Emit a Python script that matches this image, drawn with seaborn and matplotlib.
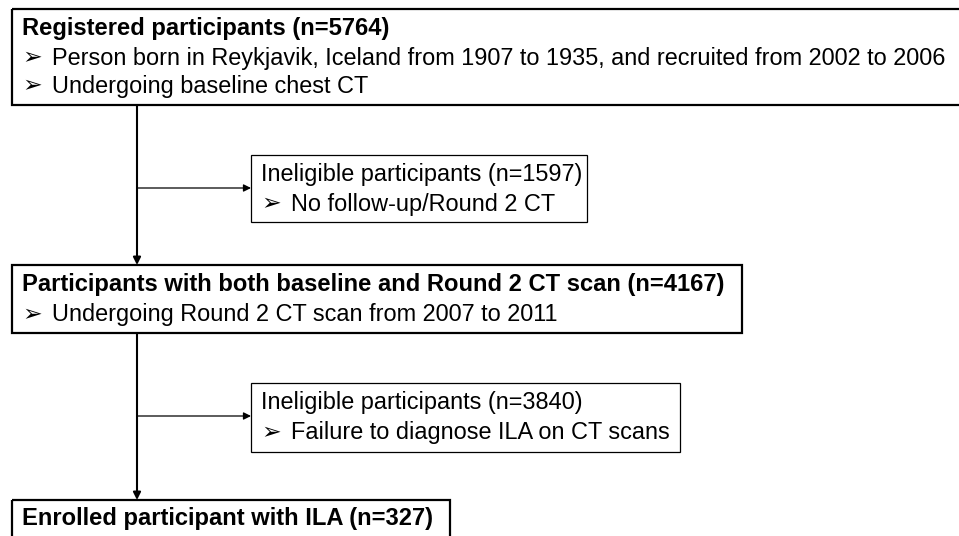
import matplotlib
matplotlib.use('Agg')
import matplotlib.pyplot as plt
import seaborn as sns
from matplotlib.patches import Rectangle

sns.set_style('white')
plt.rcParams['font.family'] = ['Liberation Sans', 'DejaVu Sans']

# flowchart content
titles = ['Registered participants (n=5764)',
          'Participants with both baseline and Round 2 CT scan (n=4167)',
          'Enrolled participant with ILA (n=327)']
title_bullets = [['Person born in Reykjavik, Iceland from 1907 to 1935, and recruited from 2002 to 2006',
                  'Undergoing baseline chest CT'],
                 ['Undergoing Round 2 CT scan from 2007 to 2011'],
                 []]
excluded = ['Ineligible participants (n=1597)', 'Ineligible participants (n=3840)']
excluded_bullets = ['No follow-up/Round 2 CT', 'Failure to diagnose ILA on CT scans']

# layout (pixel coordinates)
main_boxes = [(12, 9, 962, 105), (12, 265, 742, 333), (12, 500, 450, 545)]
main_text_y = [[29, 58, 86], [285, 315], [519]]
side_boxes = [(251, 155, 587, 222), (251, 383, 680, 452)]
side_text_y = [[174, 204], [403, 433]]
spine_x = 137
branch_y = [188, 416]
fs = 16.9
fs_bold = 17.1

fig = plt.figure(figsize=(9.59, 5.36), dpi=100)
ax = fig.add_axes([0, 0, 1, 1])
ax.set_xlim(0, 959)
ax.set_ylim(536, 0)
ax.axis('off')


def box(x0, y0, x1, y1, lw):
    ax.add_patch(Rectangle((x0, y0), x1 - x0, y1 - y0, fill=False,
                           edgecolor='black', linewidth=lw, clip_on=False))


def bullet(x, y, s):
    ax.text(x, y, '\u27a2', fontsize=fs, va='center', ha='left', color='black')
    ax.text(x + 30, y, s, fontsize=fs, va='center', ha='left', color='black')


for (x0, y0, x1, y1), title, bl, ys in zip(main_boxes, titles, title_bullets, main_text_y):
    box(x0, y0, x1, y1, 1.6)
    ax.text(x0 + 10, ys[0], title, fontsize=fs_bold, fontweight='bold',
            va='center', ha='left', color='black')
    for b, yy in zip(bl, ys[1:]):
        bullet(x0 + 10, yy, b)

for (x0, y0, x1, y1), title, b, ys in zip(side_boxes, excluded, excluded_bullets, side_text_y):
    box(x0, y0, x1, y1, 0.9)
    ax.text(x0 + 10, ys[0], title, fontsize=fs, va='center', ha='left', color='black')
    bullet(x0 + 10, ys[1], b)

arrow = dict(arrowstyle='-|>', color='black', lw=1.5, mutation_scale=11, shrinkA=0, shrinkB=0)
# vertical spines between main boxes
for a, b in zip(main_boxes[:-1], main_boxes[1:]):
    ax.annotate('', xy=(spine_x, b[1]), xytext=(spine_x, a[3]), arrowprops=arrow)
# branches to the side boxes
thin = dict(arrow, lw=0.9)
for y, sb in zip(branch_y, side_boxes):
    ax.annotate('', xy=(sb[0], y), xytext=(spine_x, y), arrowprops=thin)

fig.savefig('out.png', dpi=100, facecolor='white')
